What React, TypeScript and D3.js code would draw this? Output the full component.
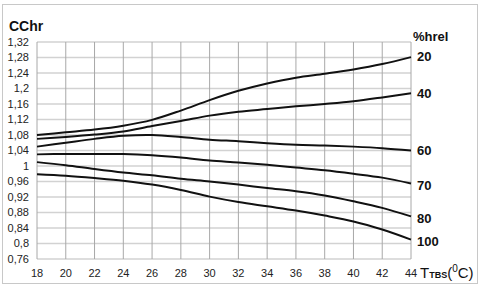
import { useEffect, useRef } from 'react';
import * as d3 from 'd3';

// Temperature (°C) on x, CChr on y, one series per relative humidity
const temps = [18, 20, 22, 24, 26, 28, 30, 32, 34, 36, 38, 40, 42, 44];
const yTicks = [0.76, 0.8, 0.84, 0.88, 0.92, 0.96, 1, 1.04, 1.08, 1.12, 1.16, 1.2, 1.24, 1.28, 1.32];
const humidity = ['20', '40', '60', '70', '80', '100'];

const rh20 = [1.08, 1.087, 1.094, 1.104, 1.119, 1.143, 1.17, 1.194, 1.213, 1.228, 1.238, 1.249, 1.263, 1.281];
const rh40 = [1.07, 1.075, 1.081, 1.089, 1.103, 1.116, 1.13, 1.14, 1.147, 1.154, 1.16, 1.167, 1.177, 1.188];
const rh60 = [1.05, 1.06, 1.07, 1.078, 1.08, 1.075, 1.068, 1.064, 1.059, 1.055, 1.053, 1.05, 1.046, 1.04];
const rh70 = [1.03, 1.031, 1.031, 1.031, 1.028, 1.022, 1.014, 1.009, 1.003, 0.996, 0.989, 0.98, 0.97, 0.955];
const rh80 = [1.01, 1.002, 0.992, 0.983, 0.976, 0.967, 0.96, 0.952, 0.943, 0.935, 0.924, 0.909, 0.892, 0.87];
const rh100 = [0.979, 0.975, 0.969, 0.962, 0.952, 0.938, 0.921, 0.907, 0.896, 0.885, 0.872, 0.857, 0.836, 0.81];

const series = [rh20, rh40, rh60, rh70, rh80, rh100];

export default function App() {
    const svgRef = useRef<SVGSVGElement>(null);

    useEffect(() => {
        if (!svgRef.current) return;
        const width = 480;
        const height = 288;
        const margin = { top: 42, right: 69, bottom: 29, left: 37 };
        const innerWidth = width - margin.left - margin.right;
        const innerHeight = height - margin.top - margin.bottom;

        const svg = d3.select(svgRef.current);
        svg.selectAll('*').remove();

        // outer frame
        svg.append('rect')
            .attr('x', 2.5)
            .attr('y', 4.5)
            .attr('width', 475)
            .attr('height', 279)
            .attr('fill', 'white')
            .attr('stroke', '#c8c8c8');

        const g = svg.append('g')
            .attr('transform', `translate(${margin.left},${margin.top})`);

        const x = d3.scaleLinear().domain([18, 44]).range([0, innerWidth]);
        const y = d3.scaleLinear().domain([0.76, 1.32]).range([innerHeight, 0]);

        // horizontal grid
        g.append('g')
            .selectAll('line')
            .data(yTicks)
            .enter()
            .append('line')
            .attr('x1', 0)
            .attr('x2', innerWidth)
            .attr('y1', d => y(d))
            .attr('y2', d => y(d))
            .attr('stroke', '#d2d2d2')
            .attr('stroke-width', 1.5);

        // vertical grid
        g.append('g')
            .selectAll('line')
            .data(temps)
            .enter()
            .append('line')
            .attr('x1', d => x(d))
            .attr('x2', d => x(d))
            .attr('y1', 0)
            .attr('y2', innerHeight)
            .attr('stroke', '#a8a8a8')
            .attr('stroke-width', 1);

        // curves
        const line = d3.line<number>()
            .x((_, i) => x(temps[i]))
            .y(d => y(d))
            .curve(d3.curveCatmullRom.alpha(0.5));

        g.append('g')
            .selectAll('path')
            .data(series)
            .enter()
            .append('path')
            .attr('fill', 'none')
            .attr('stroke', '#111')
            .attr('stroke-width', 2)
            .attr('d', d => line(d));

        // y tick labels
        g.append('g')
            .selectAll('text')
            .data(yTicks)
            .enter()
            .append('text')
            .attr('x', -8)
            .attr('y', d => y(d))
            .attr('dy', '0.36em')
            .attr('text-anchor', 'end')
            .attr('font-family', 'Liberation Sans, Arial, sans-serif')
            .attr('font-size', 11)
            .attr('fill', '#222')
            .text(d => d3.format('')(d).replace('.', ','));

        // x tick labels
        g.append('g')
            .selectAll('text')
            .data(temps)
            .enter()
            .append('text')
            .attr('x', d => x(d))
            .attr('y', innerHeight + 14)
            .attr('dy', '0.36em')
            .attr('text-anchor', 'middle')
            .attr('font-family', 'Liberation Sans, Arial, sans-serif')
            .attr('font-size', 11)
            .attr('fill', '#222')
            .text(d => d);

        // series labels on the right
        g.append('g')
            .selectAll('text')
            .data(series)
            .enter()
            .append('text')
            .attr('x', innerWidth + 6)
            .attr('y', d => y(d[d.length - 1]))
            .attr('dy', (_, i) => (i === 0 ? '0.3em' : i >= 3 ? '0.5em' : '0.36em'))
            .attr('font-family', 'Liberation Sans, Arial, sans-serif')
            .attr('font-size', 13)
            .attr('font-weight', 'bold')
            .attr('fill', '#111')
            .text((_, i) => humidity[i]);

        // titles
        svg.append('text')
            .attr('x', 9)
            .attr('y', 31)
            .attr('font-family', 'Liberation Sans, Arial, sans-serif')
            .attr('font-size', 14)
            .attr('font-weight', 'bold')
            .attr('fill', '#111')
            .text('CChr');

        svg.append('text')
            .attr('x', 413)
            .attr('y', 41)
            .attr('font-family', 'Liberation Sans, Arial, sans-serif')
            .attr('font-size', 13)
            .attr('font-weight', 'bold')
            .attr('fill', '#111')
            .text('%hrel');

        const unit = svg.append('text')
            .attr('x', 420)
            .attr('y', 278)
            .attr('font-family', 'Liberation Sans, Arial, sans-serif')
            .attr('font-size', 15)
            .attr('fill', '#111');
        unit.append('tspan').text('T');
        unit.append('tspan').attr('font-size', 9).attr('font-weight', 'bold').text('TBS');
        unit.append('tspan').text('(');
        unit.append('tspan').attr('font-size', 10).attr('dy', -6).text('0');
        unit.append('tspan').attr('dy', 6).text('C)');
    }, []);

    return (
        <svg
            ref={svgRef}
            width={480}
            height={288}
            style={{ position: 'absolute', left: 0, top: 0, display: 'block' }}
        />
    );
}
